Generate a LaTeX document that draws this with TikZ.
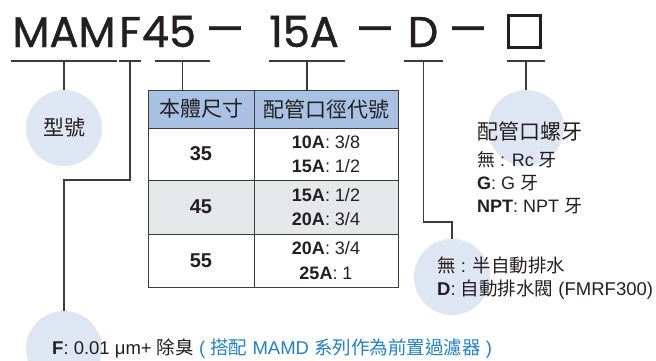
\documentclass[tikz,border=0pt]{standalone}
\usepackage{fontspec}
\setmainfont{Liberation Sans}
\newfontfamily\cjk{Noto Sans CJK TC}
\newfontfamily\codefont[FakeBold=1]{Poppins}
\definecolor{ink}{HTML}{231F20}
\definecolor{wire}{HTML}{3C3C3C}
\definecolor{bubblefill}{HTML}{DFE6F3}
\definecolor{headfill}{HTML}{A9C2E4}
\definecolor{bandfill}{HTML}{E6E7E8}
\definecolor{noteblue}{HTML}{2380C3}
\newcommand{\zh}[1]{{\cjk #1}}
\newcommand{\fs}[1]{\fontsize{#1}{#1}\selectfont}

\begin{document}
\begin{tikzpicture}[x=1pt,y=-1pt,
  code/.style={font=\codefont\fs{43},text=ink,inner sep=0pt,anchor=base},
  tick/.style={draw=wire,line width=1.1pt},
  bubble/.style={circle,fill=bubblefill,minimum size=76pt,inner sep=0pt,text=ink},
  cell/.style={draw=wire,line width=0.9pt,inner sep=0pt,text=ink,align=center},
  head/.style={cell,fill=headfill,minimum height=38pt,font=\cjk\fs{21}},
  sizecell/.style={cell,minimum width=106pt,font=\bfseries\fs{20}},
  portcell/.style={cell,minimum width=144pt,font=\fontsize{18}{24.5}\selectfont},
  label/.style={anchor=base west,inner sep=0pt,text=ink}
]
\useasboundingbox (0,0) rectangle (656,360);

% bubbles sit behind the texts
\node[bubble,font=\cjk\fs{21}] (model) at (64,128) {型號};
\node[bubble] (thread) at (526,128) {};
\node[bubble] (drain) at (452,277) {};
\node[bubble] (filter) at (64,349) {};

% model code
\node[code] (mam) at (64,47) {MAM};
\node[code] (optf) at (130,47) {F};
\node[code] (body) at (169,47) {45};
\node[code] (dash1) at (225,44) {—};
\node[code] (port) at (304,47) {15A};
\node[code] (dash2) at (375,44) {—};
\node[code] (optd) at (423,47) {D};
\node[code] (dash3) at (468,44) {—};
\node[draw=ink,line width=3pt,minimum size=32pt,inner sep=0pt] (blank) at (524,31.5) {};

% size table
\node[head,minimum width=106pt] (hsize) at (201,109) {本體尺寸};
\node[head,minimum width=144pt] (hport) at (326,109) {配管口徑代號};
\node[sizecell,minimum height=52pt] (s35) at (201,154) {35};
\node[portcell,minimum height=52pt] (p35) at (326,154) {\textbf{10A}: 3/8\\\textbf{15A}: 1/2};
\node[sizecell,fill=bandfill,minimum height=54pt] (s45) at (201,207) {45};
\node[portcell,fill=bandfill,minimum height=54pt] (p45) at (326,207) {\textbf{15A}: 1/2\\\textbf{20A}: 3/4};
\node[sizecell,minimum height=53pt] (s55) at (201,260.5) {55};
\node[portcell,minimum height=53pt] (p55) at (326,260.5) {\textbf{20A}: 3/4\\\textbf{25A}: 1};

% underlines and leaders
\foreach \a/\b/\n in {11/117/mam,119/141/optf,155/210/body,269/345/port,404/443/optd,507/545/blank}{
  \draw[tick] (\a,61) -- (\b,61);
  \coordinate (u\n) at ({(\a+\b)/2},61);
}
\draw[tick] (umam) -- (model);
\draw[tick] (uoptf) -- ++(0,119) -| (filter);
\draw[tick] (ubody) -- (ubody |- hsize.north);
\draw[tick] (uport) -- (uport |- hport.north);
\draw[tick] (uoptd) -- ++(0,161) -| (drain);
\draw[tick] (ublank) -- (thread);

% option texts
\node[label,font=\cjk\fs{21}] (threadtitle) at (477,139) {配管口螺牙};
\node[label,font=\fs{18}] (rc) at (477,166) {\zh{無} : Rc \zh{牙}};
\node[label,font=\fs{18}] (g) at (477,189) {\textbf{G}: G \zh{牙}};
\node[label,font=\fs{18}] (npt) at (477,212) {\textbf{NPT}: NPT \zh{牙}};
\node[label,font=\fs{18.5}] (semi) at (437,272) {\zh{無} : \zh{半自動排水}};
\node[label,font=\fs{18.5}] (auto) at (437,295) {\textbf{D}: \zh{自動排水閥} (FMRF300)};
\node[label,font=\fs{18.5}] (deodor) at (52,354) {\textbf{F}: 0.01 μm+ \zh{除臭} \textcolor{noteblue}{( \zh{搭配} MAMD \zh{系列作為前置過濾器} )}};
\end{tikzpicture}
\end{document}
